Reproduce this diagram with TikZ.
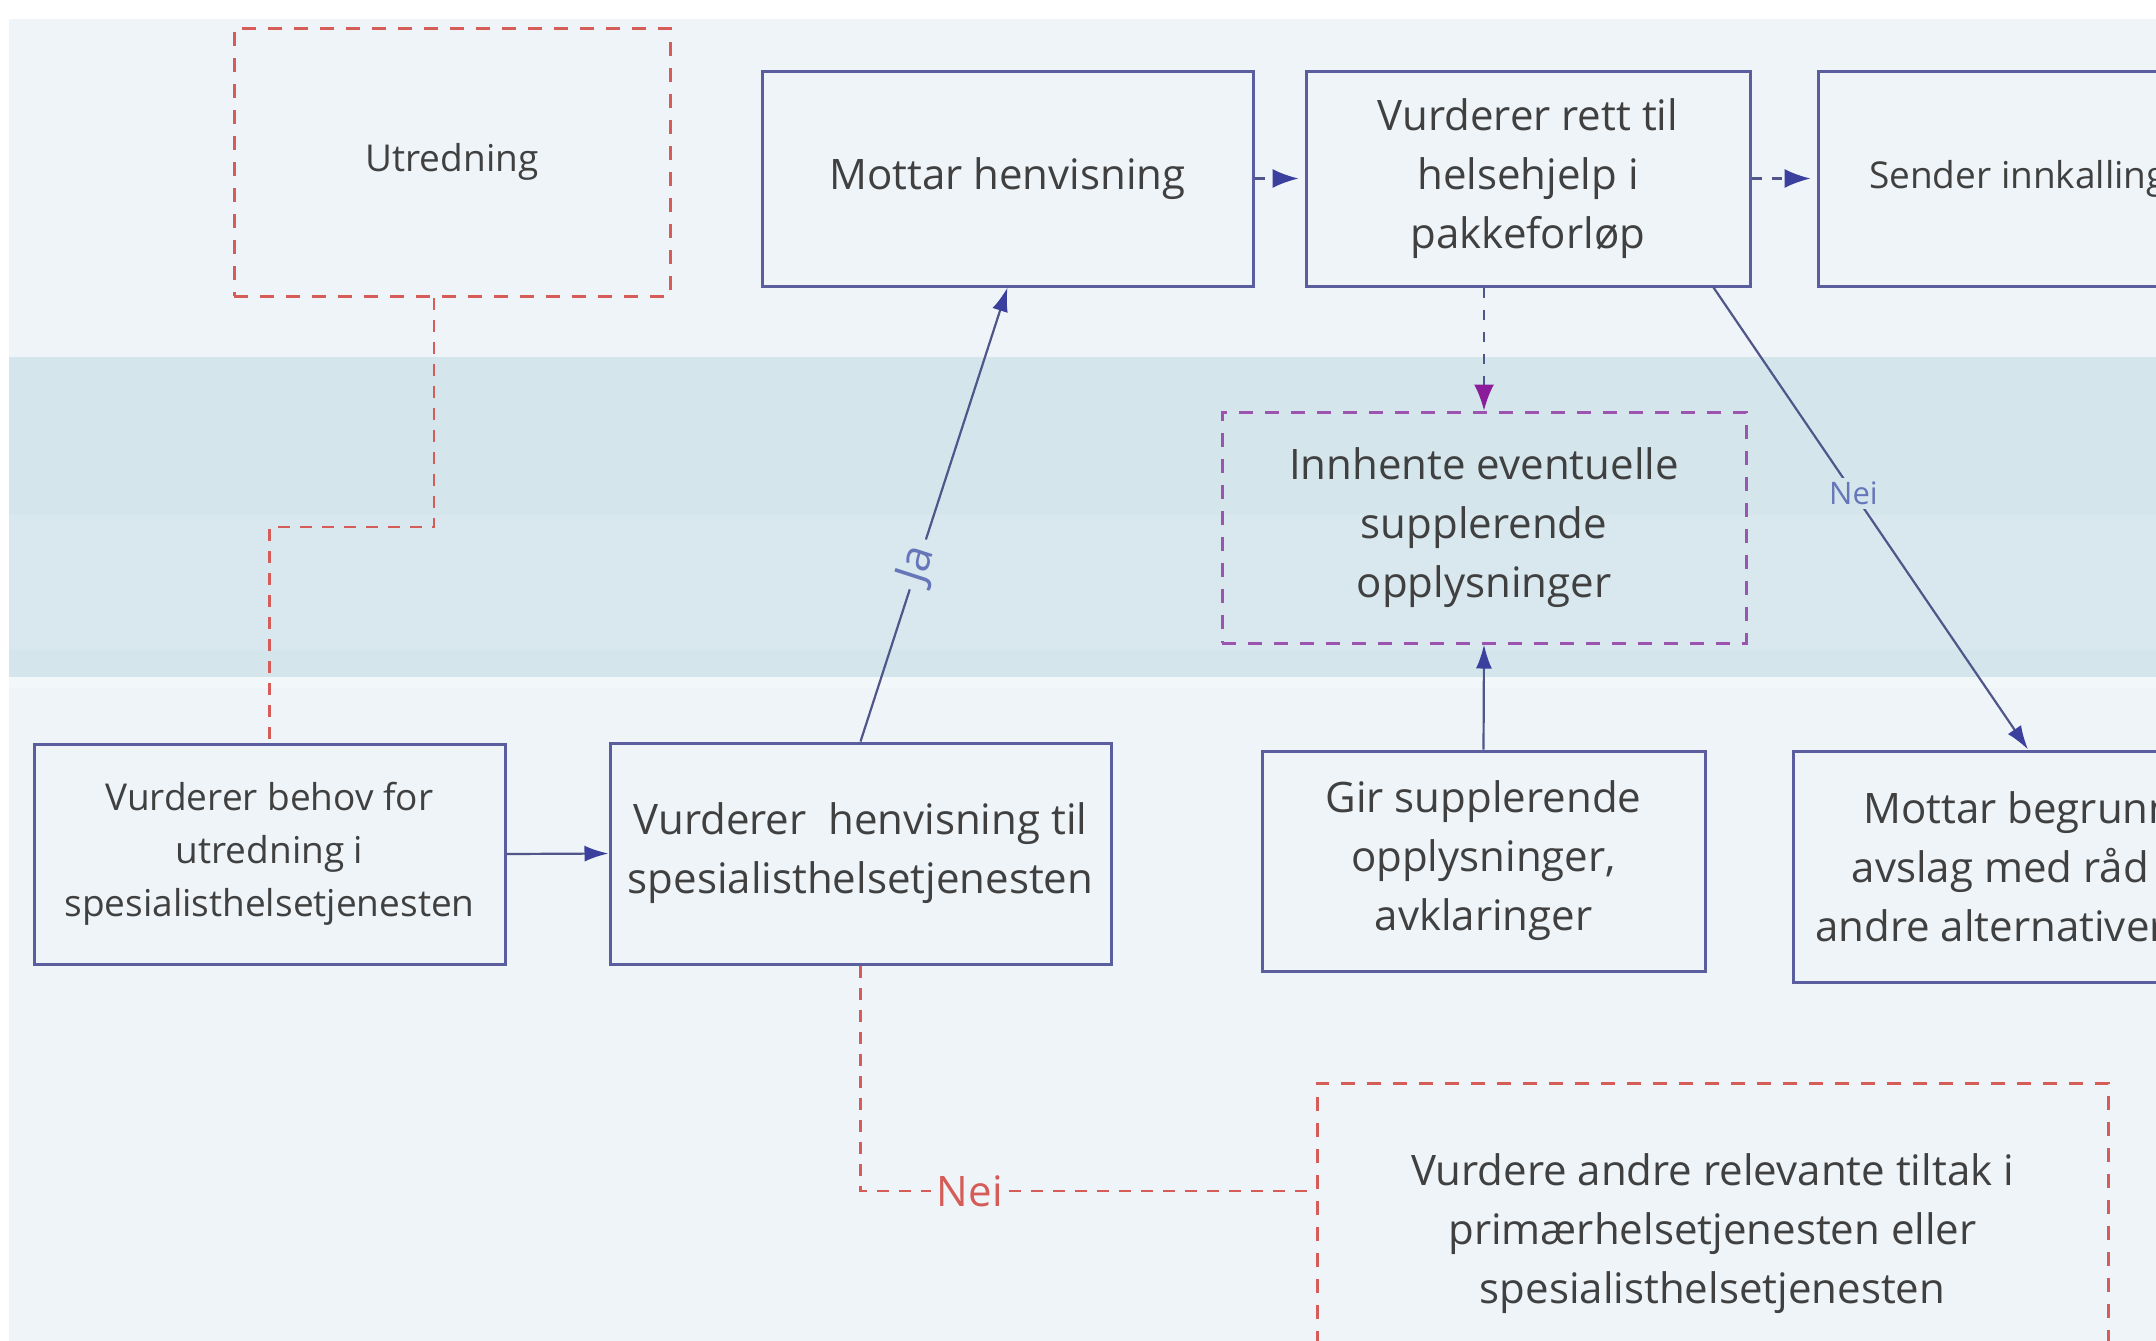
\documentclass[tikz,border=0pt]{standalone}
\usepackage{fontspec}
\setmainfont{Open Sans}
\usetikzlibrary{arrows.meta}

\definecolor{bgcol}{HTML}{EEF4F8}
\definecolor{bandcol}{HTML}{D4E6EC}
\definecolor{bandlite}{HTML}{D8E8EE}
\definecolor{stripcol}{HTML}{F2F7FA}
\definecolor{boxline}{HTML}{5A5E9E}
\definecolor{txtcol}{HTML}{404040}
\definecolor{redline}{HTML}{D65C57}
\definecolor{purpline}{HTML}{9B55AE}
\definecolor{purphead}{HTML}{8B1D9B}
\definecolor{arrline}{HTML}{50568A}
\definecolor{arrhead}{HTML}{3B3F9E}
\definecolor{lbltxt}{HTML}{6676B8}

\newcommand{\boxfontbig}{\fontsize{21}{29.5}\selectfont}
\newcommand{\boxfontsmall}{\fontsize{18.5}{26.5}\selectfont}
\newcommand{\labelfont}{\fontsize{15.5}{18}\selectfont}

\tikzset{
  stepbox/.style={draw=boxline, line width=1.5pt, text=txtcol, align=center, font=\boxfontbig, inner sep=0pt},
  redbox/.style={stepbox, draw=redline, dash pattern=on 7pt off 6pt},
  purpbox/.style={stepbox, draw=purpline, dash pattern=on 7pt off 6pt},
  flow/.style={draw=arrline, line width=1.1pt, -{Latex[length=12pt,width=8pt,color=arrhead]}},
  dashflow/.style={draw=arrline, line width=1.1pt, dash pattern=on 5pt off 5pt, shorten >=3pt, -{Latex[length=13pt,width=9.5pt,color=arrhead]}},
  purpflow/.style={draw=arrline, line width=1.1pt, dash pattern=on 5pt off 6pt, -{Latex[length=13pt,width=10pt,color=purphead]}},
  redlink/.style={draw=redline, line width=1.4pt, dash pattern=on 6pt off 5pt},
  flowlabel/.style={text=lbltxt, font=\labelfont, inner sep=2pt}
}

\begin{document}
\begin{tikzpicture}[x=0.5pt, y=-0.5pt]
        \useasboundingbox (0,0) rectangle (2156,1340);
        \clip (0,0) rectangle (2156,1340);
        % background and band
        \fill[white] (-10,-10) rectangle (2170,1360);
        \fill[bgcol] (9,19) rectangle (2170,1360);
        \fill[bandcol] (9,357) rectangle (2170,677);
        \fill[bandlite] (9,515) rectangle (2170,650);
        \fill[stripcol] (9,677) rectangle (2170,688);

        % top row
        \node[redbox, font=\boxfontsmall, minimum width=218pt, minimum height=134pt] (utr) at (452,162) {Utredning};
        \node[stepbox, minimum width=245.5pt, minimum height=107.5pt] (mottar) at (1007.5,178.5) {Mottar henvisning};
        \node[stepbox, minimum width=222pt, minimum height=107.5pt] (rett) at (1528,178.5) {Vurderer rett til\\helsehjelp i\\pakkeforløp};
        \node[stepbox, font=\boxfontsmall, minimum width=200pt, minimum height=107.5pt] (sender) at (2018,178.5) {Sender innkalling};

        % band
        \node[purpbox, minimum width=262pt, minimum height=115.5pt] (innhente) at (1484,527.5) {Innhente eventuelle\\supplerende\\opplysninger};

        % bottom row
        \node[stepbox, font=\boxfontsmall, minimum width=235.5pt, minimum height=110pt] (behov) at (269.5,854) {Vurderer behov for\\utredning i\\spesialisthelsetjenesten};
        \node[stepbox, minimum width=250.5pt, minimum height=110.5pt] (henv) at (860.5,853.5) {Vurderer\ \ henvisning til\\spesialisthelsetjenesten};
        \node[stepbox, minimum width=221.5pt, minimum height=110pt] (gir) at (1483.5,861) {Gir supplerende\\opplysninger,\\avklaringer};
        \node[stepbox, minimum width=245pt, minimum height=115.5pt] (begr) at (2038,866.5) {Mottar begrunnet\\avslag med råd om\\andre alternativer\hspace*{47pt}};
        \node[redbox, minimum width=395.5pt, minimum height=151pt] (andre) at (1712.5,1234) {Vurdere andre relevante tiltak i\\primærhelsetjenesten eller\\spesialisthelsetjenesten};

        % connectors
        \coordinate (knee) at (434,527);
        \draw[redlink] (utr.south -| knee) -- (knee) -| (behov.north);
        \draw[flow] (behov.east) -- (henv.west);
        \draw[flow] (henv.north) -- node[pos=0.39, sloped, fill=bandlite, flowlabel, font=\fontsize{22}{24}\selectfont, inner sep=4pt] {Ja} (mottar.south);
        \draw[dashflow] (mottar.east) -- (rett.west);
        \draw[dashflow] (rett.east) -- (sender.west);
        \draw[purpflow] (innhente.north |- rett.south) -- (innhente.north);
        \draw[flow] (gir.north) -- (innhente.south);
        \draw[flow] ([shift={(-38,0)}]rett.south east) -- node[pos=0.445, fill=bandcol, flowlabel] {Nei} ([shift={(-10,0)}]begr.north);
        \draw[redlink] (henv.south) |- node[pos=0.62, fill=bgcol, text=redline, font=\boxfontbig, inner sep=3pt] {Nei} ([shift={(0,-43)}]andre.west);
    \end{tikzpicture}
\end{document}
